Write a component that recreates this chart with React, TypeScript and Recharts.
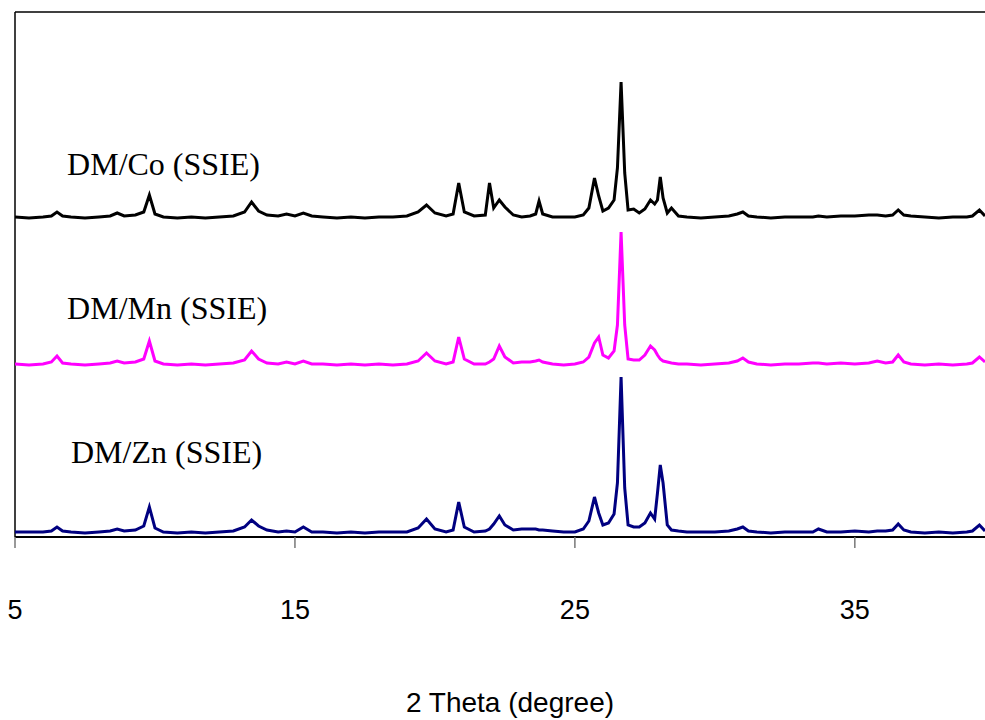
import React from 'react';
import { ComposedChart, Line, XAxis, YAxis, ReferenceLine, ReferenceDot, Label } from 'recharts';

const twoTheta = [
  5.0, 5.5, 6.0, 6.3, 6.5, 6.7, 7.0, 7.5, 8.0, 8.4,
  8.65, 8.9, 9.3, 9.6, 9.8, 10.0, 10.3, 10.8, 11.3, 11.8,
  12.3, 12.8, 13.2, 13.45, 13.7, 14.0, 14.4, 14.7, 15.0, 15.3,
  15.6, 16.0, 16.5, 17.0, 17.5, 18.0, 18.5, 19.0, 19.4, 19.7,
  20.0, 20.4, 20.65, 20.85, 21.05, 21.4, 21.8, 21.95, 22.1, 22.3,
  22.5, 22.8, 23.1, 23.4, 23.6, 23.72, 23.85, 24.2, 24.6, 25.0,
  25.3, 25.5, 25.7, 25.85, 26.0, 26.2, 26.4, 26.52, 26.65, 26.78,
  26.9, 27.1, 27.3, 27.5, 27.7, 27.85, 27.95, 28.05, 28.15, 28.3,
  28.45, 28.7, 29.0, 29.5, 30.0, 30.5, 30.8, 31.0, 31.2, 31.5,
  32.0, 32.5, 33.0, 33.5, 33.7, 34.0, 34.5, 35.0, 35.5, 35.8,
  36.1, 36.35, 36.55, 36.75, 37.0, 37.5, 38.0, 38.5, 39.0, 39.2,
  39.45, 39.65,
];

const coValues = [
  320, 319, 320, 321, 325, 321, 320, 319, 320, 321,
  324, 321, 322, 325, 342, 323, 320, 319, 320, 319,
  320, 321, 325, 335, 326, 322, 321, 323, 321, 324,
  321, 320, 319, 320, 319, 320, 320, 321, 325, 332,
  324, 321, 323, 354, 325, 321, 322, 354, 329, 337,
  330, 322, 320, 321, 323, 336, 323, 320, 320, 320,
  322, 329, 359, 341, 326, 329, 337, 369, 455, 364,
  327, 328, 324, 328, 337, 333, 337, 360, 339, 324,
  329, 321, 320, 319, 320, 321, 323, 325, 321, 320,
  319, 320, 320, 320, 321, 320, 321, 321, 322, 322,
  321, 322, 327, 322, 321, 320, 319, 320, 320, 321,
  327, 321,
];

const mnValues = [
  173, 172, 173, 175, 181, 174, 173, 172, 173, 174,
  176, 174, 175, 178, 196, 176, 173, 172, 173, 172,
  173, 174, 177, 186, 178, 174, 173, 175, 173, 176,
  173, 173, 172, 173, 172, 173, 172, 173, 176, 184,
  176, 173, 175, 200, 178, 173, 173, 175, 178, 191,
  180, 174, 175, 175, 176, 177, 175, 173, 172, 173,
  175, 180, 194, 200, 182, 179, 186, 212, 305, 212,
  178, 177, 177, 182, 191, 187, 182, 178, 176, 175,
  174, 173, 173, 172, 173, 174, 176, 179, 175, 173,
  172, 173, 173, 174, 174, 173, 174, 173, 174, 176,
  174, 175, 182, 175, 173, 172, 173, 172, 173, 174,
  180, 175,
];

const znValues = [
  5, 5, 5, 6, 10, 6, 5, 4, 5, 6,
  8, 6, 7, 11, 30, 9, 5, 4, 5, 4,
  5, 6, 10, 17, 11, 7, 5, 6, 5, 10,
  5, 5, 4, 5, 4, 5, 5, 5, 9, 18,
  8, 5, 7, 35, 10, 5, 6, 8, 13, 21,
  12, 7, 8, 8, 8, 7, 7, 6, 5, 5,
  8, 16, 40, 24, 12, 14, 23, 54, 160, 49,
  12, 10, 10, 14, 24, 18, 44, 72, 54, 12,
  7, 6, 5, 5, 5, 6, 8, 10, 6, 5,
  4, 5, 5, 5, 8, 5, 5, 6, 5, 6,
  6, 7, 13, 7, 5, 4, 5, 4, 5, 6,
  12, 6,
];

const xTicks = [5, 15, 25, 35];
const sampleNames = ['DM/Co (SSIE)', 'DM/Mn (SSIE)', 'DM/Zn (SSIE)'];
const nameX = [6.86, 6.86, 7.0];
const nameY = [362, 218, 74];

const rows = twoTheta.map((t, i) => ({ t, co: coValues[i], mn: mnValues[i], zn: znValues[i] }));

const sans = "'Liberation Sans', Arial, sans-serif";
const serif = "'Liberation Serif', 'Times New Roman', serif";

export default function App() {
  return (
    <div style={{ position: 'absolute', left: 0, top: 0, width: 985, height: 720, background: '#fff' }}>
      <ComposedChart width={985} height={720} data={rows} margin={{ top: 12, right: 0, bottom: 0, left: 15 }}>
        <XAxis
          dataKey="t"
          type="number"
          domain={[5, 39.65]}
          allowDataOverflow
          ticks={xTicks}
          interval={0}
          tickSize={11}
          tickMargin={52}
          height={183}
          tickLine={{ stroke: '#777', strokeWidth: 1.5 }}
          axisLine={{ stroke: '#000', strokeWidth: 2 }}
          tick={{ fontSize: 27, fill: '#000', fontFamily: sans }}
        >
          <Label value="2 Theta (degree)" position="insideBottom" offset={8} dx={10} fill="#000" fontSize={28} fontFamily={sans} />
        </XAxis>
        <YAxis type="number" domain={[0, 525]} allowDataOverflow hide />
        <ReferenceLine y={525} stroke="#000" strokeWidth={1.5} />
        <ReferenceLine x={5} stroke="#000" strokeWidth={1.5} />
        <Line type="linear" dataKey="co" stroke="#000000" strokeWidth={3} dot={false} isAnimationActive={false} />
        <Line type="linear" dataKey="mn" stroke="#FF00FF" strokeWidth={3} dot={false} isAnimationActive={false} />
        <Line type="linear" dataKey="zn" stroke="#000080" strokeWidth={3} dot={false} isAnimationActive={false} />
        {sampleNames.map((name, i) => (
          <ReferenceDot
            key={name}
            x={nameX[i]}
            y={nameY[i]}
            r={0}
            shape={(p: any) => (
              <text x={p.cx} y={p.cy} fontFamily={serif} fontSize={32} fill="#000" textAnchor="start">
                {name}
              </text>
            )}
          />
        ))}
      </ComposedChart>
    </div>
  );
}
